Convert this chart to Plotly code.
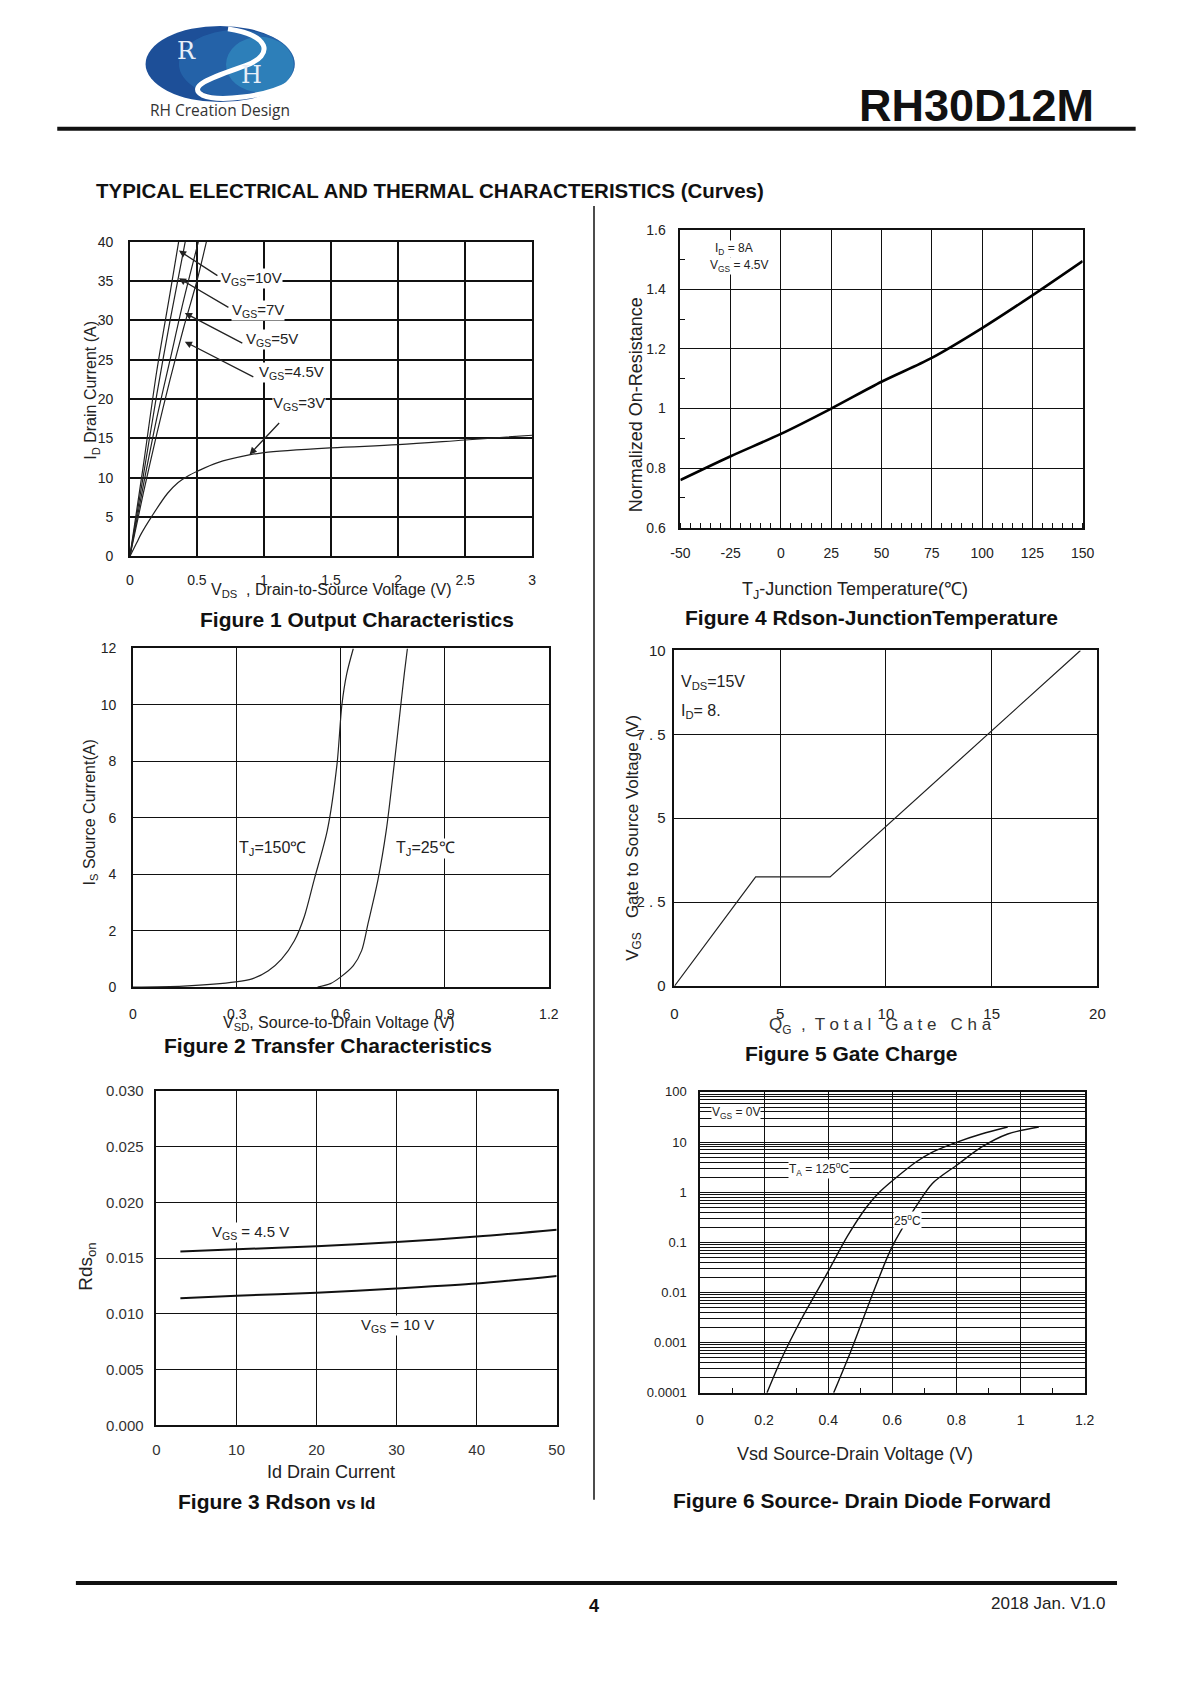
import plotly.graph_objects as go

W, H = 1190, 1684          # page size
OFF = 8                    # default browser body margin
FW, FH = W - 2 * OFF, H - 2 * OFF   # figure size so the page fits the window exactly
NARROW = "Liberation Sans Narrow, Arial Narrow, Liberation Sans, Arial, sans-serif"
SANS = "Liberation Sans, Arial, sans-serif"

# ---------------- Figure 1: Output characteristics ----------------
f1_vds_10 = [0, 0.1, 0.2, 0.3, 0.364]
f1_id_10 = [0, 11.5, 23.5, 33.5, 40]
f1_vds_7 = [0, 0.1, 0.2, 0.3, 0.413]
f1_id_7 = [0, 10.2, 20.5, 30, 40]
f1_vds_5 = [0, 0.1, 0.2, 0.3, 0.4, 0.511]
f1_id_5 = [0, 9, 17.5, 25, 32.5, 40]
f1_vds_45 = [0, 0.1, 0.2, 0.3, 0.4, 0.5, 0.571]
f1_id_45 = [0, 8, 15.5, 22.5, 29, 35, 40]
f1_vds_3 = [0, 0.05, 0.085, 0.16, 0.28, 0.36, 0.43, 0.5, 0.65, 0.89, 1.0, 1.5, 2.0, 2.5, 3.0]
f1_id_3 = [0, 1.7, 2.9, 5.0, 8.0, 9.4, 10.2, 10.8, 11.9, 12.9, 13.2, 13.8, 14.2, 14.8, 15.4]

# ---------------- Figure 2: Transfer characteristics ----------------
f2_v_150 = [0, 0.146, 0.297, 0.344, 0.391, 0.429, 0.466, 0.495, 0.523, 0.561, 0.589, 0.603, 0.617, 0.636]
f2_i_150 = [0, 0.035, 0.18, 0.29, 0.58, 0.99, 1.64, 2.51, 3.8, 5.55, 7.9, 10.0, 11.1, 12.0]
f2_v_25 = [0.533, 0.57, 0.599, 0.636, 0.66, 0.679, 0.707, 0.731, 0.754, 0.773, 0.783, 0.792]
f2_i_25 = [0, 0.12, 0.35, 0.76, 1.29, 2.28, 3.8, 5.55, 7.9, 10.0, 11.1, 12.0]

# ---------------- Figure 3: Rdson vs Id ----------------
f3_id = [3, 10, 20, 30, 40, 50]
f3_r_45 = [0.0156, 0.0158, 0.01608, 0.01646, 0.01694, 0.01756]
f3_r_10 = [0.0114, 0.01164, 0.0119, 0.01229, 0.01273, 0.01341]

# ---------------- Figure 4: Rdson vs junction temperature ----------------
f4_t = [-50, -25, 0, 25, 50, 75, 100, 125, 150]
f4_r = [0.76, 0.84, 0.915, 1.0, 1.09, 1.17, 1.27, 1.38, 1.495]
f4_xtickvals = [-50, -25, 0, 25, 50, 75, 100, 125, 150]
f4_xticktext = ["-50", "-25", "0", "25", "50", "75", "100", "125", "150"]

# ---------------- Figure 5: Gate charge ----------------
f5_qg = [0, 3.84, 7.36, 19.2]
f5_vgs = [0, 3.25, 3.25, 10]

# ---------------- Figure 6: Source-drain diode forward ----------------
f6_v_125 = [0.209, 0.255, 0.317, 0.398, 0.46, 0.521, 0.562, 0.603, 0.674, 0.725, 0.802, 0.878, 0.96]
f6_i_125 = [1e-4, 4.9e-4, 3e-3, 0.025, 0.133, 0.52, 1.03, 1.75, 4.0, 6.3, 10, 14.5, 20]
f6_v_25 = [0.417, 0.47, 0.541, 0.598, 0.674, 0.725, 0.802, 0.878, 0.96, 1.057]
f6_i_25 = [1e-4, 6.6e-4, 0.0102, 0.0785, 0.52, 1.5, 3.5, 7.9, 14.5, 20]

f5_ytickvals = [0, 2.5, 5, 7.5, 10]
f5_yticktext = ["0", "2 . 5", "5", "7 . 5", "10"]
f6_ytickvals = [1e-4, 1e-3, 1e-2, 1e-1, 1, 10, 100]
f6_yticktext = ["0.0001", "0.001", "0.01", "0.1", "1", "10", "100"]
f6_minor = [k * 10.0 ** d for d in range(-4, 2) for k in range(2, 10)]


def px(x):
    return (x - OFF) / FW


def py(y):
    return 1 - (y - OFF) / FH


def dx(a, b):
    return [px(a), px(b)]


def dy(top, bottom):
    return [py(bottom), py(top)]


fig = go.Figure()


def line(xs, ys, ax, width=1.2, color="#222", shape="spline", smoothing=0.8):
    fig.add_trace(go.Scatter(x=xs, y=ys, xaxis="x" + ax, yaxis="y" + ax, mode="lines",
                             line=dict(color=color, width=width, shape=shape, smoothing=smoothing),
                             showlegend=False, hoverinfo="skip"))


line(f1_vds_10, f1_id_10, "", 1.2)
line(f1_vds_7, f1_id_7, "", 1.2)
line(f1_vds_5, f1_id_5, "", 1.2)
line(f1_vds_45, f1_id_45, "", 1.2)
line(f1_vds_3, f1_id_3, "", 1.2, smoothing=1.0)
line(f4_t, f4_r, "2", 2.6, "#000")
line(f2_v_150, f2_i_150, "3", 1.2)
line(f2_v_25, f2_i_25, "3", 1.2)
line(f5_qg, f5_vgs, "4", 1.2, "#222", "linear")
line(f3_id, f3_r_45, "5", 2.0, "#111")
line(f3_id, f3_r_10, "5", 2.0, "#111")
line(f6_v_125, f6_i_125, "6", 1.4, "#111")
line(f6_v_25, f6_i_25, "6", 1.4, "#111")


def axis(domain, anchor, rng=None, dtick=None, gridw=1.3, standoff=8, size=14, family=NARROW,
         color="#222", **kw):
    d = dict(domain=domain, anchor=anchor, showgrid=True, gridcolor="#111", gridwidth=gridw,
             showline=True, linecolor="#111", linewidth=1.5, mirror=True, zeroline=False,
             ticks="", tickfont=dict(family=family, size=size, color=color),
             ticklabelstandoff=standoff, fixedrange=True)
    if rng is not None:
        d["range"] = rng
    if dtick is not None:
        d["dtick"] = dtick
    d.update(kw)
    return d


layout = dict(
    width=FW, height=FH, margin=dict(l=0, r=0, t=0, b=0),
    paper_bgcolor="white", plot_bgcolor="white", showlegend=False,
    xaxis=axis(dx(122, 532), "y", [0, 3], 0.5, 1.6, 10, 14),
    yaxis=axis(dy(235, 553), "x", [0, 40], 5, 1.6, 12, 14),
    xaxis2=axis(dx(683, 1093), "y2", [-50, 150], None, 1.2, 12, 14,
                tickmode="array", tickvals=f4_xtickvals, ticktext=f4_xticktext,
                minor=dict(dtick=5, tick0=0, ticks="inside", ticklen=5, tickcolor="#111",
                           showgrid=False)),
    yaxis2=axis(dy(223, 524), "x2", [0.6, 1.6], 0.2, 1.2, 10, 14,
                minor=dict(dtick=0.1, ticks="inside", ticklen=5, tickcolor="#111", showgrid=False)),
    xaxis3=axis(dx(125, 549), "y3", [0, 1.2], 0.3, 1.3, 13, 14),
    yaxis3=axis(dy(646, 988), "x3", [0, 12], 2, 1.3, 12, 14),
    xaxis4=axis(dx(677, 1108), "y4", [0, 20], 5, 1.2, 13, 15),
    yaxis4=axis(dy(648, 987), "x4", [0, 10], None, 1.2, 4, 15,
                tickmode="array", tickvals=f5_ytickvals, ticktext=f5_yticktext),
    xaxis5=axis(dx(149, 557), "y5", [0, 50], 10, 1.3, 10, 15, SANS, "#333"),
    yaxis5=axis(dy(1093, 1431), "x5", [0, 0.030], 0.005, 1.3, 8, 15, SANS, "#333",
                tickformat=".3f"),
    xaxis6=axis(dx(703, 1095), "y6", [0, 1.2], 0.2, 1.4, 14, 14,
                minor=dict(dtick=0.1, ticks="inside", ticklen=5, tickcolor="#111", showgrid=False)),
    yaxis6=axis(dy(1094, 1398), "x6", [-4, 2], None, 1.4, 9, 13, type="log",
                tickmode="array", tickvals=f6_ytickvals, ticktext=f6_yticktext,
                minor=dict(tickvals=f6_minor, showgrid=True, gridcolor="#111", gridwidth=0.9,
                           ticks="")),
)

ann = []


def txt(x, y, s, size, family=SANS, color="#111", bg=None, xanchor="center", angle=0,
        yanchor="middle"):
    d = dict(x=px(x), y=py(y), xref="paper", yref="paper", text=s, showarrow=False,
             font=dict(family=family, size=size, color=color), xanchor=xanchor,
             yanchor=yanchor, textangle=angle, borderpad=0)
    if bg:
        d["bgcolor"] = bg
    ann.append(d)


def arrow(tail, tip):
    ann.append(dict(x=px(tip[0]), y=py(tip[1]), xref="paper", yref="paper",
                    ax=tail[0] - tip[0], ay=tail[1] - tip[1], axref="pixel", ayref="pixel",
                    text="", showarrow=True, arrowhead=2, arrowsize=1.1, arrowwidth=1.3,
                    arrowcolor="#222"))


# header
txt(214, 102, "RH Creation Design", 15.5, "Open Sans, Liberation Sans, sans-serif", "#333")
txt(1106, 97, "<b>RH30D12M</b>", 45, SANS, "#111", xanchor="right")
txt(86, 183, "<b>TYPICAL ELECTRICAL AND THERMAL CHARACTERISTICS (Curves)</b>", 20.5, SANS,
    "#111", xanchor="left")
txt(180, 42, "R", 24, "DejaVu Serif, serif", "#e6eef8")
txt(246, 67, "H", 24, "DejaVu Serif, serif", "#e6eef8")

# Figure 1
txt(246, 272, "V<sub>GS</sub>=10V", 15, NARROW, "#222", "white")
txt(253, 305, "V<sub>GS</sub>=7V", 15, NARROW, "#222", "white")
txt(267, 334, "V<sub>GS</sub>=5V", 15, NARROW, "#222", "white")
txt(287, 367, "V<sub>GS</sub>=4.5V", 15, NARROW, "#222", "white")
txt(294, 398, "V<sub>GS</sub>=3V", 15, NARROW, "#222", "white")
arrow((212, 270), (172, 244))
arrow((223, 302), (172, 272))
arrow((237, 338), (178, 307))
arrow((248, 372), (178, 336))
arrow((275, 417), (244, 450))
txt(83, 385, "I<sub>D</sub> Drain Current (A)", 16, SANS, "#222", angle=-90)
txt(327, 587, "V<sub>DS</sub>  , Drain-to-Source Voltage (V)", 16, NARROW, "#222")
txt(353, 617, "<b>Figure 1 Output Characteristics</b>", 21, SANS)

# Figure 4
txt(738, 242, "I<sub>D</sub> = 8A", 12, NARROW, "#222", "white")
txt(743, 260, "V<sub>GS</sub> = 4.5V", 12, NARROW, "#222", "white")
txt(638, 400, "Normalized On-Resistance", 18, SANS, "#222", angle=-90)
txt(861, 587, "T<sub>J</sub>-Junction Temperature(℃)", 18, SANS, "#222")
txt(878, 615, "<b>Figure 4 Rdson-JunctionTemperature</b>", 21, SANS)

# Figure 2
txt(267, 848, "T<sub>J</sub>=150℃", 16, NARROW, "#222", "white")
txt(423, 848, "T<sub>J</sub>=25℃", 16, NARROW, "#222", "white")
txt(82, 812, "I<sub>S</sub> Source Current(A)", 16, SANS, "#222", angle=-90)
txt(335, 1025, "V<sub>SD</sub>, Source-to-Drain Voltage (V)", 16, NARROW, "#222")
txt(324, 1047, "<b>Figure 2 Transfer Characteristics</b>", 21, SANS)

# Figure 5
txt(683, 680, "V<sub>DS</sub>=15V", 16, NARROW, "#222", xanchor="left")
txt(683, 710, "I<sub>D</sub>= 8.", 16, NARROW, "#222", xanchor="left")
txt(635, 837, "V<sub>GS</sub>   Gate to Source Voltage (V)", 17, SANS, "#222", angle=-90)
txt(772, 1027, "Q<sub>G</sub>  ,  T o t a l   G a t e   C h a", 17, SANS, "#333",
    xanchor="left")
txt(857, 1055, "<b>Figure 5 Gate Charge</b>", 21, SANS)

# Figure 3
txt(245, 1236, "V<sub>GS</sub> = 4.5 V", 15, SANS, "#222", "white")
txt(395, 1330, "V<sub>GS</sub> = 10 V", 15, SANS, "#222", "white")
txt(78, 1270, "Rds<sub>on</sub>", 19, SANS, "#222", angle=-90)
txt(327, 1478, "Id Drain Current", 18, SANS, "#222")
txt(271, 1508, "<b>Figure 3 Rdson </b><b><span style='font-size:17px'>vs Id</span></b>", 21, SANS)

# Figure 6
txt(740, 1115, "V<sub>GS</sub> = 0V", 12, NARROW, "#222", "white")
txt(824, 1172, "T<sub>A</sub> = 125<sup>o</sup>C", 12, NARROW, "#222", "white")
txt(914, 1223, "25<sup>o</sup>C", 12, NARROW, "#222", "white")
txt(861, 1460, "Vsd Source-Drain Voltage (V)", 18, SANS, "#222")
txt(868, 1507, "<b>Figure 6 Source- Drain Diode Forward</b>", 21, SANS)

# footer
txt(595, 1613, "<b>4</b>", 18, SANS, "#111")
txt(1117, 1611, "2018 Jan. V1.0", 17, SANS, "#222", xanchor="right")

layout["annotations"] = ann


def path(pts_cmd):
    out = []
    for item in pts_cmd:
        if isinstance(item, str):
            out.append(item)
        else:
            out.append(f"{px(item[0]):.5f},{py(item[1]):.5f}")
    return " ".join(out)


shapes = [
    # logo ellipse layers (pseudo gradient)
    dict(type="circle", xref="paper", yref="paper", x0=px(138), x1=px(290), y0=py(94), y1=py(17),
         fillcolor="#1d4f98", line=dict(width=0), layer="below"),
    dict(type="circle", xref="paper", yref="paper", x0=px(172), x1=px(290), y0=py(90), y1=py(21),
         fillcolor="#2a73b6", opacity=0.55, line=dict(width=0), layer="below"),
    dict(type="circle", xref="paper", yref="paper", x0=px(220), x1=px(289), y0=py(84), y1=py(28),
         fillcolor="#3aa3cf", opacity=0.45, line=dict(width=0), layer="below"),
    dict(type="path", xref="paper", yref="paper", layer="below",
         path=path(["M", (222, 20), "C", (264, 26), (270, 46), (240, 57), "C", (212, 67),
                    (178, 77), (196, 87), "C", (212, 94), (260, 89), (285, 75)]),
         line=dict(color="white", width=5)),
    # header rule
    dict(type="line", xref="paper", yref="paper", x0=px(48), x1=px(1147), y0=py(121), y1=py(121),
         line=dict(color="#111", width=4)),
    # vertical divider
    dict(type="line", xref="paper", yref="paper", x0=px(595), x1=px(595), y0=py(199), y1=py(1506),
         line=dict(color="#111", width=1.5)),
    # footer rule
    dict(type="line", xref="paper", yref="paper", x0=px(67), x1=px(1128), y0=py(1590),
         y1=py(1590), line=dict(color="#111", width=4)),
]
layout["shapes"] = shapes

fig.update_layout(**layout)
fig.write_html("out.html", config={"displayModeBar": False})
